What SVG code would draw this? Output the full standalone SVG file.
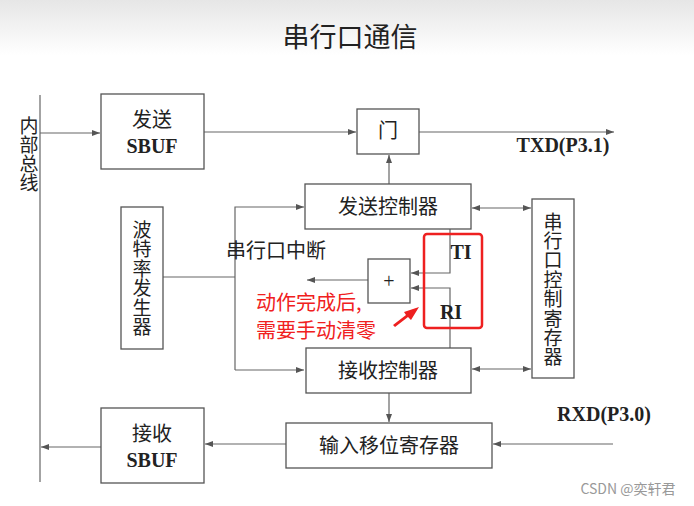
<svg xmlns="http://www.w3.org/2000/svg" width="694" height="506" viewBox="0 0 694 506">
<style>
.box{fill:#fff;stroke:#555;stroke-width:1.3}
.ln{fill:none;stroke:#666;stroke-width:1.2}
.cn{font-family:"Liberation Serif","Noto Sans CJK SC",serif;font-size:20px;fill:#222;text-anchor:middle;dominant-baseline:central}
.en{font-family:"Liberation Serif",serif;font-weight:bold;font-size:20px;fill:#222;text-anchor:middle;dominant-baseline:central}
.red{font-family:"Noto Sans CJK SC",sans-serif;font-size:20px;fill:#f02020}
</style>
<defs>
<linearGradient id="bg" x1="0" y1="0" x2="0" y2="1">
<stop offset="0" stop-color="#e6e6e6"/>
<stop offset="1" stop-color="#ffffff"/>
</linearGradient>
<marker id="ar" markerUnits="userSpaceOnUse" markerWidth="8" markerHeight="6" refX="8" refY="3" orient="auto-start-reverse">
<path d="M0,0 L8,3 L0,6 z" fill="#555"/>
</marker>
</defs>
<rect x="0" y="0" width="694" height="506" fill="#fff"/>
<rect x="0" y="0" width="694" height="55" fill="url(#bg)"/>
<text x="350" y="38" class="cn" style="font-size:27px">串行口通信</text>

<g id="connectors">
<line class="ln" x1="40" y1="95" x2="40" y2="482"/>
<line class="ln" x1="40" y1="133" x2="100" y2="133" marker-end="url(#ar)"/>
<line class="ln" x1="204" y1="132" x2="356" y2="132" marker-end="url(#ar)"/>
<line class="ln" x1="419" y1="132" x2="614" y2="132" marker-end="url(#ar)"/>
<line class="ln" x1="389" y1="184" x2="389" y2="155" marker-end="url(#ar)"/>
<line class="ln" x1="472" y1="208" x2="531" y2="208" marker-start="url(#ar)" marker-end="url(#ar)"/>
<line class="ln" x1="472" y1="369" x2="531" y2="369" marker-start="url(#ar)" marker-end="url(#ar)"/>
<polyline class="ln" points="163,277 235,277"/>
<polyline class="ln" points="235,370 235,207 304,207" marker-end="url(#ar)"/>
<line class="ln" x1="235" y1="370" x2="304" y2="370" marker-end="url(#ar)"/>
<line class="ln" x1="368" y1="280" x2="307" y2="280" marker-end="url(#ar)"/>
<polyline class="ln" points="450,229 450,273 411,273" marker-end="url(#ar)"/>
<polyline class="ln" points="450,348 450,288 411,288" marker-end="url(#ar)"/>
<line class="ln" x1="389" y1="393" x2="389" y2="422" marker-end="url(#ar)"/>
<line class="ln" x1="613" y1="444" x2="493" y2="444" marker-end="url(#ar)"/>
<line class="ln" x1="286" y1="444" x2="205" y2="444" marker-end="url(#ar)"/>
<line class="ln" x1="101" y1="447" x2="41" y2="447" marker-end="url(#ar)"/>
</g>

<g id="bus-label">
<text x="29" y="126" class="cn" style="font-size:19px">内</text>
<text x="29" y="145" class="cn" style="font-size:19px">部</text>
<text x="29" y="164" class="cn" style="font-size:19px">总</text>
<text x="29" y="183" class="cn" style="font-size:19px">线</text>
</g>

<g id="send-sbuf">
<rect class="box" x="101" y="94" width="103" height="75"/>
<text x="152" y="120" class="cn">发送</text>
<text x="152" y="146" class="en">SBUF</text>
</g>

<g id="gate">
<rect class="box" x="357" y="109" width="62" height="45"/>
<text x="388" y="131" class="cn">门</text>
</g>

<g id="txd">
<text x="563" y="145" class="en">TXD(P3.1)</text>
</g>

<g id="send-ctrl">
<rect class="box" x="305" y="184" width="166" height="45"/>
<text x="388" y="207" class="cn">发送控制器</text>
</g>

<g id="baud">
<rect class="box" x="121" y="207" width="42" height="142"/>
<text x="142" y="230" class="cn" style="font-size:19px">波</text>
<text x="142" y="249" class="cn" style="font-size:19px">特</text>
<text x="142" y="269" class="cn" style="font-size:19px">率</text>
<text x="142" y="288" class="cn" style="font-size:19px">发</text>
<text x="142" y="308" class="cn" style="font-size:19px">生</text>
<text x="142" y="327" class="cn" style="font-size:19px">器</text>
</g>

<g id="int-label">
<text x="276" y="251" class="cn">串行口中断</text>
</g>

<g id="or">
<rect class="box" x="368" y="259" width="42" height="44"/>
<text x="389" y="281" class="cn">+</text>
</g>

<g id="ti">
<text x="461" y="252" class="en">TI</text>
</g>
<g id="ri">
<text x="451" y="312" class="en">RI</text>
</g>

<g id="scon">
<rect class="box" x="532" y="199" width="42" height="179"/>
<text x="553" y="222" class="cn" style="font-size:19px">串</text>
<text x="553" y="241" class="cn" style="font-size:19px">行</text>
<text x="553" y="260" class="cn" style="font-size:19px">口</text>
<text x="553" y="280" class="cn" style="font-size:19px">控</text>
<text x="553" y="299" class="cn" style="font-size:19px">制</text>
<text x="553" y="319" class="cn" style="font-size:19px">寄</text>
<text x="553" y="338" class="cn" style="font-size:19px">存</text>
<text x="553" y="357" class="cn" style="font-size:19px">器</text>
</g>

<g id="recv-ctrl">
<rect class="box" x="306" y="348" width="165" height="45"/>
<text x="388" y="371" class="cn">接收控制器</text>
</g>

<g id="shift-reg">
<rect class="box" x="286" y="423" width="206" height="45"/>
<text x="389" y="446" class="cn">输入移位寄存器</text>
</g>

<g id="rxd">
<text x="604" y="414" class="en">RXD(P3.0)</text>
</g>

<g id="recv-sbuf">
<rect class="box" x="101" y="408" width="103" height="75"/>
<text x="152" y="434" class="cn">接收</text>
<text x="152" y="460" class="en">SBUF</text>
</g>

<g id="annotation">
<rect x="424" y="234" width="58" height="94" rx="3" fill="none" stroke="#ee2020" stroke-width="2.5"/>
<text x="256" y="310" class="red">动作完成后,</text>
<text x="256" y="338" class="red">需要手动清零</text>
<polygon points="393,325 406,315 404,312 419,307 411,320 408,317 395,327" fill="#ee2020"/>
</g>

<g id="watermark">
<text x="628" y="494" style="font-family:'Noto Sans CJK SC',sans-serif;font-size:14px;fill:#999;text-anchor:middle">CSDN @奕轩君</text>
</g>
</svg>
